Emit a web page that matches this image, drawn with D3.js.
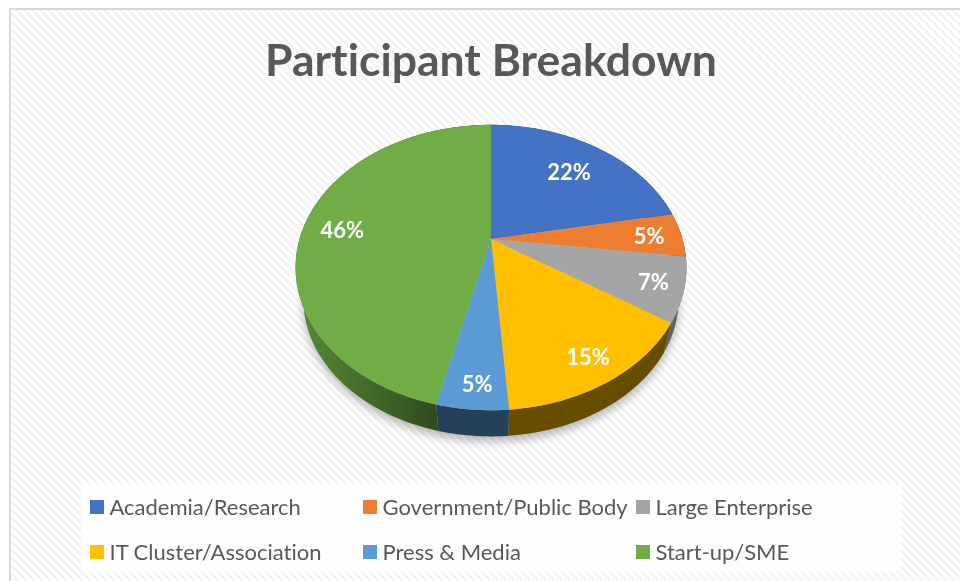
<!DOCTYPE html>
<html>
<head>
<meta charset="utf-8">
<script src="https://cdn.jsdelivr.net/npm/d3@7"></script>
<style>
  html, body { margin: 0; padding: 0; background: #fff; }
  svg { display: block; }
  text { font-family: Lato, "Open Sans", sans-serif; font-variant-ligatures: none; }
</style>
</head>
<body>
<div id="chart"></div>
<script>
const categories = ["Academia/Research", "Government/Public Body", "Large Enterprise", "IT Cluster/Association", "Press & Media", "Start-up/SME"];
const percents = [22, 5, 7.2, 14.6, 4.9, 46.3];
const colors = ["#4472c4", "#ed7d31", "#a5a5a5", "#ffc000", "#5b9bd5", "#70ad47"];
const rimColors = ["#29447a", "#8e4b1d", "#636363", "#664d00", "#254059", "url(#greenRim)"];
const chartTitle = "Participant Breakdown";

const width = 960;
const height = 581;

// how the flat pie gets tilted on screen
const cx = 491;
const cy = 239;
const rx = 191.5;
const ry = 137;
const tilt = 0.2;
const rimDrop = 33;
const rimShrink = 0.96;

// label placement along each slice (fraction of radius), plus nudges
const labelRadius = [0.7, 0.83, 0.85, 0.85, 0.87, 0.78];
const labelNudge = [[1, 0], [0, 1], [0, 1], [0, 1], [2, 2], [-3, 3]];

const svg = d3.select("#chart").append("svg")
  .attr("width", width)
  .attr("height", height);

const defs = svg.append("defs");

const hatch = defs.append("pattern")
  .attr("id", "hatch")
  .attr("patternUnits", "userSpaceOnUse")
  .attr("width", 5.66)
  .attr("height", 5.66)
  .attr("patternTransform", "rotate(45)");
hatch.append("rect").attr("width", 5.66).attr("height", 5.66).attr("fill", "#ffffff");
hatch.append("rect").attr("width", 5.66).attr("height", 2.83).attr("fill", "#f3f3f3");

const greenRim = defs.append("linearGradient")
  .attr("id", "greenRim")
  .attr("gradientUnits", "userSpaceOnUse")
  .attr("x1", 300).attr("x2", 440).attr("y1", 0).attr("y2", 0);
greenRim.append("stop").attr("offset", "0%").attr("stop-color", "#568a36");
greenRim.append("stop").attr("offset", "100%").attr("stop-color", "#2f4a1f");

defs.append("filter").attr("id", "soft")
  .append("feGaussianBlur").attr("stdDeviation", 0.5);
defs.append("filter").attr("id", "shadow")
  .attr("x", "-20%").attr("y", "-20%").attr("width", "140%").attr("height", "140%")
  .append("feGaussianBlur").attr("stdDeviation", 5);

// page and chart frame
svg.append("rect").attr("width", width).attr("height", height).attr("fill", "#ffffff");
svg.append("rect")
  .attr("x", 10).attr("y", 9)
  .attr("width", width).attr("height", height)
  .attr("fill", "url(#hatch)")
  .attr("stroke", "#d9d9d9")
  .attr("stroke-width", 2);

svg.append("text")
  .attr("x", 491)
  .attr("y", 76)
  .attr("text-anchor", "middle")
  .attr("font-size", 44.5)
  .attr("font-weight", 700)
  .attr("fill", "#595959")
  .attr("filter", "url(#soft)")
  .text(chartTitle);

// t is the clockwise angle from 12 o'clock, r the fraction of the radius
function project(t, r) {
  const X = Math.sin(t) * r;
  const Y = -Math.cos(t) * r;
  const s = 1 / (1 - tilt * Y);
  return [cx + rx * X * s, cy + ry * Y * s];
}

function lower(p) {
  return [cx + (p[0] - cx) * rimShrink, cy + rimDrop + (p[1] - cy) * rimShrink];
}

const slices = d3.pie().sort(null)(percents);
const line = d3.line();

function edgePoints(d) {
  const n = Math.max(2, Math.ceil((d.endAngle - d.startAngle) * 40));
  return d3.range(n + 1).map((i) => project(d.startAngle + ((d.endAngle - d.startAngle) * i) / n, 1));
}

// blurred shadow under the pie
const allEdge = d3.range(0, 2 * Math.PI, 0.02).map((t) => lower(project(t, 1)));
svg.append("path")
  .attr("d", line(allEdge.map((p) => [p[0], p[1] + 5])) + "Z")
  .attr("fill", "#000")
  .attr("opacity", 0.28)
  .attr("filter", "url(#shadow)");

const pieGroup = svg.append("g");

pieGroup.selectAll(".rim")
  .data(slices)
  .enter()
  .append("path")
  .attr("class", "rim")
  .attr("d", (d) => {
    const top = edgePoints(d);
    return line(top.concat(top.map(lower).reverse())) + "Z";
  })
  .attr("fill", (d, i) => rimColors[i]);

pieGroup.selectAll(".slice")
  .data(slices)
  .enter()
  .append("path")
  .attr("class", "slice")
  .attr("d", (d) => line([[cx, cy]].concat(edgePoints(d))) + "Z")
  .attr("fill", (d, i) => colors[i]);

svg.selectAll(".pct")
  .data(slices)
  .enter()
  .append("text")
  .attr("class", "pct")
  .attr("transform", (d, i) => {
    const p = project((d.startAngle + d.endAngle) / 2, labelRadius[i]);
    return `translate(${p[0] + labelNudge[i][0]}, ${p[1] + labelNudge[i][1]})`;
  })
  .attr("text-anchor", "middle")
  .attr("dy", "0.35em")
  .attr("font-size", 22)
  .attr("font-weight", 700)
  .attr("fill", "#ffffff")
  .attr("filter", "url(#soft)")
  .text((d) => Math.round(d.data) + "%");

// legend
const legendColumns = [90, 363, 636];
const legendRows = [507, 552];

svg.append("rect")
  .attr("x", 81).attr("y", 485)
  .attr("width", 820).attr("height", 86)
  .attr("fill", "#ffffff")
  .attr("opacity", 0.75);

const legend = svg.selectAll(".legend-item")
  .data(categories)
  .enter()
  .append("g")
  .attr("class", "legend-item")
  .attr("transform", (d, i) => `translate(${legendColumns[i % 3]}, ${legendRows[Math.floor(i / 3)]})`);

legend.append("rect")
  .attr("x", 0).attr("y", -7)
  .attr("width", 14).attr("height", 14)
  .attr("fill", (d, i) => colors[i]);

legend.append("text")
  .attr("x", 19.5)
  .attr("dy", "0.35em")
  .attr("font-size", 22)
  .attr("fill", "#595959")
  .attr("filter", "url(#soft)")
  .text((d) => d);
</script>
</body>
</html>
